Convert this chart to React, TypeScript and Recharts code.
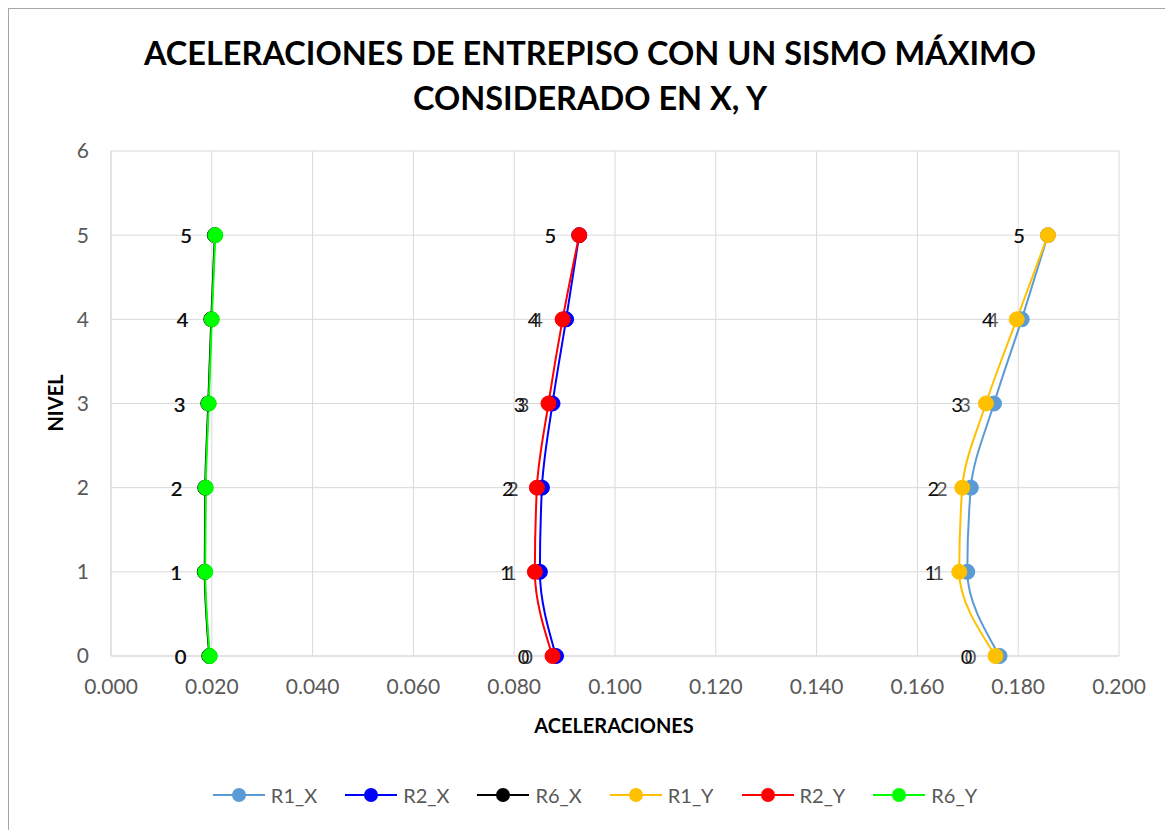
import React from 'react'
import { LineChart, Line, CartesianGrid, XAxis, YAxis, LabelList } from 'recharts'

// niveles (eje Y) y aceleraciones por registro (eje X)
const LEVELS = [0, 1, 2, 3, 4, 5]
const R1_X = [0.1763, 0.1699, 0.1706, 0.1752, 0.1807, 0.1859]
const R2_X = [0.0883, 0.0851, 0.0855, 0.0876, 0.0903, 0.0929]
const R6_X = [0.0195, 0.0186, 0.0187, 0.0193, 0.0199, 0.0206]
const R1_Y = [0.1755, 0.1683, 0.1689, 0.1736, 0.1797, 0.1859]
const R2_Y = [0.0876, 0.0841, 0.0845, 0.0868, 0.0896, 0.0929]
const R6_Y = [0.0196, 0.0187, 0.0188, 0.0194, 0.02, 0.0207]

const X_TICKS = [0, 0.02, 0.04, 0.06, 0.08, 0.1, 0.12, 0.14, 0.16, 0.18, 0.2]
const Y_TICKS = [0, 1, 2, 3, 4, 5, 6]

const TITLE_LINES = ['ACELERACIONES DE ENTREPISO CON UN SISMO MÁXIMO', 'CONSIDERADO EN X, Y']
const X_LABEL = 'ACELERACIONES'
const Y_LABEL = 'NIVEL'

const SERIES = [
  { key: 'R1_X', values: R1_X, color: '#5B9BD5', labelColor: '#595959' },
  { key: 'R2_X', values: R2_X, color: '#0000FF', labelColor: '#404040' },
  { key: 'R6_X', values: R6_X, color: '#000000', labelColor: '#404040' },
  { key: 'R1_Y', values: R1_Y, color: '#FFC000', labelColor: '#0d0d0d' },
  { key: 'R2_Y', values: R2_Y, color: '#FF0000', labelColor: '#0d0d0d' },
  { key: 'R6_Y', values: R6_Y, color: '#00FF00', labelColor: '#0d0d0d' },
]

const data = LEVELS.map((level, i) => {
  const row: Record<string, number> = { level }
  SERIES.forEach((s) => {
    row[s.key] = s.values[i]
  })
  return row
})

const FONT = 'Lato, "Open Sans", sans-serif'
const W = 1164
const H = 821

const levelLabel = (color: string) => (props: any) => {
  const x = props.x ?? props.viewBox?.x
  const y = props.y ?? props.viewBox?.y
  if (x == null || y == null) return null
  return (
    <text
      x={x - 29}
      y={y}
      textAnchor="middle"
      dominantBaseline="central"
      fontFamily={FONT}
      fontSize={20}
      fill={color}
    >
      {props.value}
    </text>
  )
}

export default function App() {
  return (
    <div
      style={{
        position: 'relative',
        width: W,
        height: H,
        borderTop: '1px solid #a6a6a6',
        borderLeft: '1px solid #a6a6a6',
        background: '#fff',
        fontFamily: FONT,
      }}
    >
      <LineChart
        layout="vertical"
        width={W}
        height={H}
        data={data}
        margin={{ top: 142, right: 54, left: 42, bottom: 134 }}
      >
        <CartesianGrid stroke="#d9d9d9" strokeWidth={1} />
        <XAxis
          type="number"
          domain={[0, 0.2]}
          ticks={X_TICKS}
          tickFormatter={(v: number) => v.toFixed(3)}
          tickLine={false}
          tickMargin={17}
          height={40}
          axisLine={{ stroke: '#d9d9d9' }}
          tick={{ fill: '#595959', fontSize: 21, fontFamily: FONT }}
          allowDataOverflow
        />
        <YAxis
          type="number"
          dataKey="level"
          domain={[0, 6]}
          ticks={Y_TICKS}
          reversed
          width={60}
          tickLine={false}
          tickMargin={16}
          axisLine={{ stroke: '#d9d9d9' }}
          tick={{ fill: '#595959', fontSize: 21, fontFamily: FONT }}
        />
        {SERIES.map((s) => (
          <Line
            key={s.key}
            type="monotone"
            dataKey={s.key}
            name={s.key}
            stroke={s.color}
            strokeWidth={2}
            dot={{ r: 7.5, fill: s.color, stroke: s.color, strokeWidth: 1 }}
            activeDot={false}
            isAnimationActive={false}
          >
            <LabelList dataKey="level" content={levelLabel(s.labelColor)} />
          </Line>
        ))}
      </LineChart>

      <svg
        width={W}
        height={H}
        style={{ position: 'absolute', left: 0, top: 0, pointerEvents: 'none' }}
      >
        {TITLE_LINES.map((t, i) => (
          <text
            key={t}
            x={581}
            y={43 + i * 45}
            textAnchor="middle"
            dominantBaseline="central"
            fontFamily={FONT}
            fontWeight={700}
            fontSize={32.5}
            fill="#000"
          >
            {t}
          </text>
        ))}
        <text
          x={605}
          y={716}
          textAnchor="middle"
          dominantBaseline="central"
          fontFamily={FONT}
          fontWeight={700}
          fontSize={20}
          fill="#000"
        >
          {X_LABEL}
        </text>
        <text
          x={46}
          y={394}
          textAnchor="middle"
          dominantBaseline="central"
          fontFamily={FONT}
          fontWeight={700}
          fontSize={20}
          fill="#000"
          transform="rotate(-90 46 394)"
        >
          {Y_LABEL}
        </text>
      </svg>

      <div
        style={{
          position: 'absolute',
          left: 0,
          top: 776,
          width: W,
          paddingLeft: 8,
          boxSizing: 'border-box',
          display: 'flex',
          justifyContent: 'center',
          alignItems: 'center',
        }}
      >
        {SERIES.map((s, i) => (
          <div
            key={s.key}
            style={{
              display: 'flex',
              alignItems: 'center',
              marginRight: i === SERIES.length - 1 ? 0 : 28,
            }}
          >
            <svg width={52} height={20}>
              <line x1={0} y1={10} x2={52} y2={10} stroke={s.color} strokeWidth={2} />
              <circle cx={26} cy={10} r={7} fill={s.color} />
            </svg>
            <span style={{ marginLeft: 6, fontSize: 20, color: '#595959', lineHeight: '20px' }}>
              {s.key}
            </span>
          </div>
        ))}
      </div>
    </div>
  )
}
